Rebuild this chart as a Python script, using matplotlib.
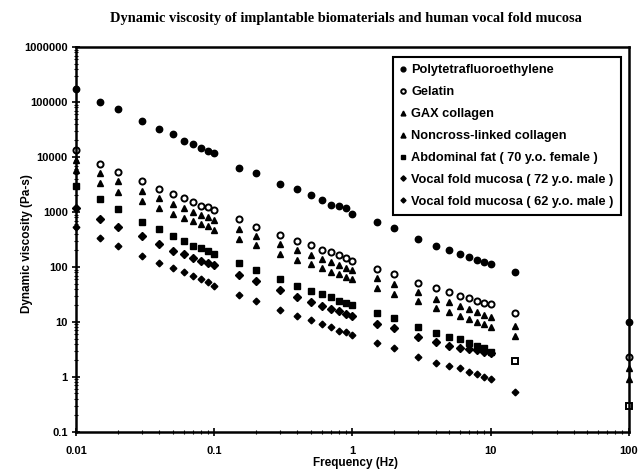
import numpy as np
import matplotlib
matplotlib.use("Agg")
import matplotlib.pyplot as plt
from matplotlib.ticker import LogLocator, FixedLocator, FixedFormatter, NullFormatter

plt.rcParams['font.family'] = ['Liberation Sans', 'DejaVu Sans']

# measurement frequencies (Hz)
freq = [0.01, 0.015, 0.02, 0.03, 0.04, 0.05, 0.06, 0.07, 0.08, 0.09, 0.1,
        0.15, 0.2, 0.3, 0.4, 0.5, 0.6, 0.7, 0.8, 0.9, 1.0,
        1.5, 2, 3, 4, 5, 6, 7, 8, 9, 10, 15, 100]

# dynamic viscosity (Pa-s) for each material
ptfe = [170000, 101000, 73700, 45700, 31900, 25900, 19800, 17200, 14800, 12900, 12000,
        6240, 5060, 3230, 2590, 2070, 1630, 1360, 1290, 1180, 920,
        658, 506, 323, 241, 201, 175, 150, 134, 122, 112, 80, 10]
gelatin = [13400, 7460, 5340, 3660, 2650, 2100, 1770, 1500, 1290, 1220, 1090,
           737, 541, 382, 301, 251, 204, 185, 165, 144, 130,
           92, 74, 52, 42, 35.6, 29.3, 27, 24.1, 22.1, 21, 14.8, 2.31]
gax = [8820, 5190, 3610, 2410, 1770, 1400, 1200, 1010, 881, 822, 716,
       484, 371, 259, 204, 167, 142, 123, 110, 96, 88,
       62, 49, 35.6, 26.5, 22.8, 19.5, 17, 15.2, 13.6, 12.5, 8.45, 1.46]
noncross = [5800, 3410, 2340, 1600, 1170, 920, 787, 695, 605, 564, 471,
            319, 248, 172, 134, 112, 97, 82, 75, 67, 60,
            42, 32.7, 23.9, 18.2, 15.4, 12.7, 11.2, 10.1, 9.2, 8.2, 5.6, 0.92]
fat = [2970, 1700, 1120, 667, 491, 371, 297, 241, 224, 198, 170,
       117, 88, 60.5, 45.7, 37, 32.3, 28.5, 24.4, 21.9, 20.6,
       14.8, 11.8, 8.2, 6.3, 5.4, 4.84, 4.1, 3.66, 3.33, 2.85, 1.93, 0.30]
vf72 = [1170, 737, 541, 361, 259, 198, 170, 144, 130, 118, 109,
        72, 55, 37.7, 28.8, 23.1, 19.5, 17.5, 15.8, 14.2, 12.9,
        9.3, 7.7, 5.4, 4.4, 3.7, 3.4, 3.2, 3.1, 2.9, 2.7]
vf62 = [541, 333, 244, 160, 117, 95, 80, 69.5, 60, 53, 45.7,
        31, 24.4, 16.5, 12.7, 10.7, 9.1, 8.0, 6.95, 6.5, 5.8,
        4.2, 3.3, 2.34, 1.82, 1.6, 1.44, 1.25, 1.13, 0.99, 0.91, 0.53]

labels = ['Polytetrafluoroethylene', 'Gelatin', 'GAX collagen',
          'Noncross-linked collagen', 'Abdominal fat ( 70 y.o. female )',
          'Vocal fold mucosa ( 72 y.o. male )', 'Vocal fold mucosa ( 62 y.o. male )']

fig = plt.figure(figsize=(6.39, 4.71), dpi=100)
ax = fig.add_axes([0.119, 0.083, 0.865, 0.817])

kw = dict(linestyle='none', color='black', clip_on=False)
ax.plot(freq, ptfe, marker='o', ms=4.6, label=labels[0], **kw)
ax.plot(freq, gelatin, marker='o', ms=4.4, mfc='white', mew=1.4, label=labels[1], **kw)
ax.plot(freq, gax, marker='^', ms=4.6, label=labels[2], **kw)
ax.plot(freq, noncross, marker='^', ms=4.8, label=labels[3], **kw)
ax.plot(freq[:-2], fat[:-2], marker='s', ms=4.4, label=labels[4], **kw)
ax.plot(freq[-2:], fat[-2:], marker='s', ms=4.4, mfc='white', mew=1.4, **kw)
ax.plot(freq[:len(vf72)], vf72, marker='D', ms=3.6, label=labels[5], **kw)
ax.plot(freq[:len(vf62)], vf62, marker='D', ms=3.4, label=labels[6], **kw)

ax.set_xscale('log')
ax.set_yscale('log')
ax.set_xlim(0.01, 100)
ax.set_ylim(0.1, 1000000)

xt = [0.01, 0.1, 1, 10, 100]
yt = [0.1, 1, 10, 100, 1000, 10000, 100000, 1000000]
ax.xaxis.set_major_locator(FixedLocator(xt))
ax.xaxis.set_major_formatter(FixedFormatter(['0.01', '0.1', '1', '10', '100']))
ax.yaxis.set_major_locator(FixedLocator(yt))
ax.yaxis.set_major_formatter(FixedFormatter(['0.1', '1', '10', '100', '1000', '10000',
                                             '100000', '1000000']))
ax.xaxis.set_minor_locator(LogLocator(base=10, subs=np.arange(2, 10), numticks=20))
ax.yaxis.set_minor_locator(LogLocator(base=10, subs=np.arange(2, 10), numticks=20))
ax.xaxis.set_minor_formatter(NullFormatter())
ax.yaxis.set_minor_formatter(NullFormatter())

ax.tick_params(which='major', direction='inout', length=6, width=1.2,
               labelsize=8, pad=3)
ax.tick_params(which='minor', direction='inout', length=3, width=0.8)
ax.tick_params(axis='x', which='major', pad=7)
for lab in ax.get_xticklabels() + ax.get_yticklabels():
    lab.set_fontweight('bold')

for side in ['left', 'bottom', 'top', 'right']:
    ax.spines[side].set_linewidth(1.8)

ax.set_xlabel('Frequency (Hz)', fontsize=8.5, fontweight='bold')
ax.set_ylabel('Dynamic viscosity (Pa-s)', fontsize=8.5, fontweight='bold')
ax.xaxis.set_label_coords(0.506, -0.066)
ax.yaxis.set_label_coords(-0.078, 0.49)

fig.suptitle('Dynamic viscosity of implantable biomaterials and human vocal fold mucosa',
             x=0.541, y=0.975, fontsize=10.4, fontweight='bold', family='Liberation Serif')

leg = ax.legend(loc='upper right', bbox_to_anchor=(0.9855, 0.974), borderaxespad=0,
                prop={'size': 9.2, 'weight': 'bold'}, frameon=True, fancybox=False,
                framealpha=1, edgecolor='black', handlelength=0.5, handletextpad=0.4,
                labelspacing=0.78, borderpad=0.55, markerscale=0.75)
leg.get_frame().set_linewidth(1.5)

fig.savefig('out.png', dpi=100)
